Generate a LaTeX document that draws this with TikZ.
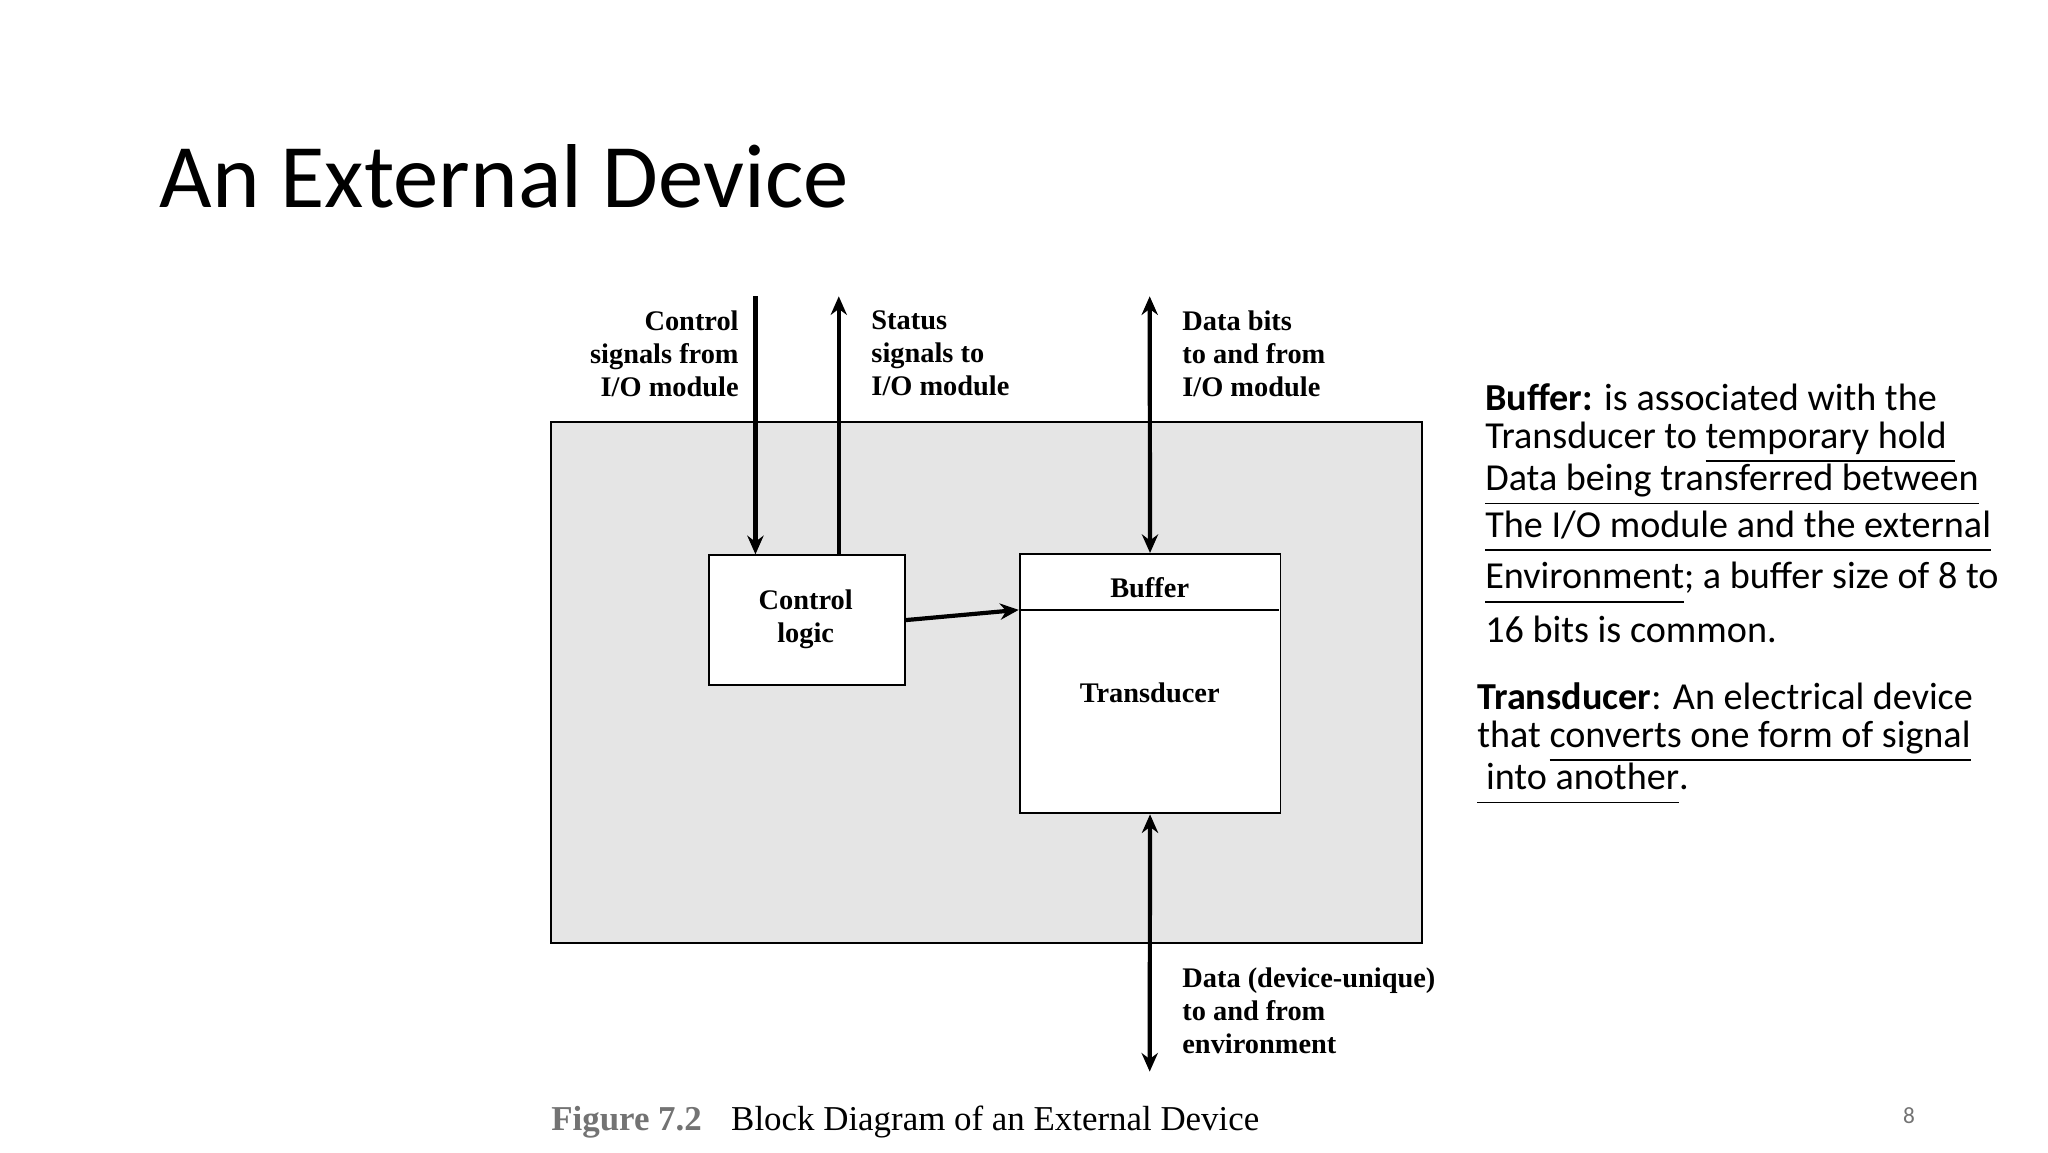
\documentclass[tikz,border=0pt]{standalone}
\usepackage{fontspec}
\setmainfont{Carlito}
\newfontfamily\diag{Liberation Serif}
\newcommand\myul[1]{$\underline{\smash{\mbox{#1}}\vphantom{\mbox{y}}}$}
\usetikzlibrary{arrows.meta}
\begin{document}
\begin{tikzpicture}[x=0.01cm,y=-0.01cm,
  box/.style={draw,line width=0.4pt,fill=white,anchor=north west,inner sep=0pt},
  sig/.style={line width=0.9pt,-{Stealth[length=4pt,width=3.5pt]}},
  sig2/.style={line width=0.9pt,{Stealth[length=4pt,width=3.5pt]}-{Stealth[length=4pt,width=3.5pt]}},
  lbl/.style={font=\diag\bfseries\fontsize{6.1}{7.1}\selectfont,inner sep=0pt},
  body/.style={font=\fontsize{8.2}{10}\selectfont,anchor=west,inner sep=0pt}]
\useasboundingbox (0,0) rectangle (1548,871);
\node[anchor=west,inner sep=0pt,font=\fontsize{19.5}{22}\selectfont] (title) at (120,133) {An External Device};
% outer box
\node[box,fill=black!10,minimum width=6.58cm,minimum height=3.94cm] (dev) at (416,318) {};
\node[box,minimum width=1.48cm,minimum height=0.98cm] (ctl) at (535,419) {};
\node[lbl,align=center] (ctlt) at (609,468) {Control\\logic};
\node[box,minimum width=1.97cm,minimum height=1.96cm] (tr) at (770,418) {};
\draw (770,461) -- (967,461);
\node[lbl] (buf) at (869,444) {Buffer};
\node[lbl] (trd) at (869,524) {Transducer};
% connector ends
\coordinate (c1) at (571,224);
\coordinate (c2) at (634,224);
\coordinate (c3) at (869,224);
\coordinate (c4) at (869,810);
\coordinate (bin) at (770,461);
\draw[sig] (c1) -- (571,419);
\draw[sig] (634,419) -- (c2);
\draw[sig2] (c3) -- (tr.north);
\draw[sig2] (tr.south) -- (c4);
\draw[sig] (ctl.east) -- (bin);
% labels
\node[lbl,anchor=north east,align=right] (l1) at (559,234) {Control\\signals from\\I/O module};
\node[lbl,anchor=north west,align=left] (l2) at (658,234) {Status\\signals to\\I/O module};
\node[lbl,anchor=north west,align=left] (l3) at (893,234) {Data bits\\to and from\\I/O module};
\node[lbl,anchor=north west,align=left] (l4) at (893,731) {Data (device-unique)\\to and from\\environment};
% caption
\node[anchor=west,inner sep=0pt,font=\diag\bfseries\fontsize{7.5}{9}\selectfont,text=black!55] (fig) at (416,848) {Figure 7.2};
\node[anchor=west,inner sep=0pt,font=\diag\fontsize{7.5}{9}\selectfont] (cap) at (552,848) {Block Diagram of an External Device};
\node[inner sep=0pt,font=\fontsize{5}{6}\selectfont,text=black!55] (pg) at (1443,843) {8};
% right text
\node[body] (b1) at (1122,300) {\textbf{Buffer:} is associated with the};
\node[body] (b2) at (1122,335) {Transducer to \myul{temporary hold\ }};
\node[body] (b3) at (1122,370) {\myul{Data being transferred between}};
\node[body] (b4) at (1122,405) {\myul{The I/O module and the external}};
\node[body] (b5) at (1122,441) {\myul{Environment}; a buffer size of 8 to};
\node[body] (b6) at (1122,476) {16 bits is common.};
\node[body] (t1) at (1116,526) {\textbf{Transducer}: An electrical device};
\node[body] (t2) at (1116,561) {that \myul{converts one form of signal}};
\node[body] (t3) at (1116,596) {\myul{\ into another}.};
\end{tikzpicture}
\end{document}
